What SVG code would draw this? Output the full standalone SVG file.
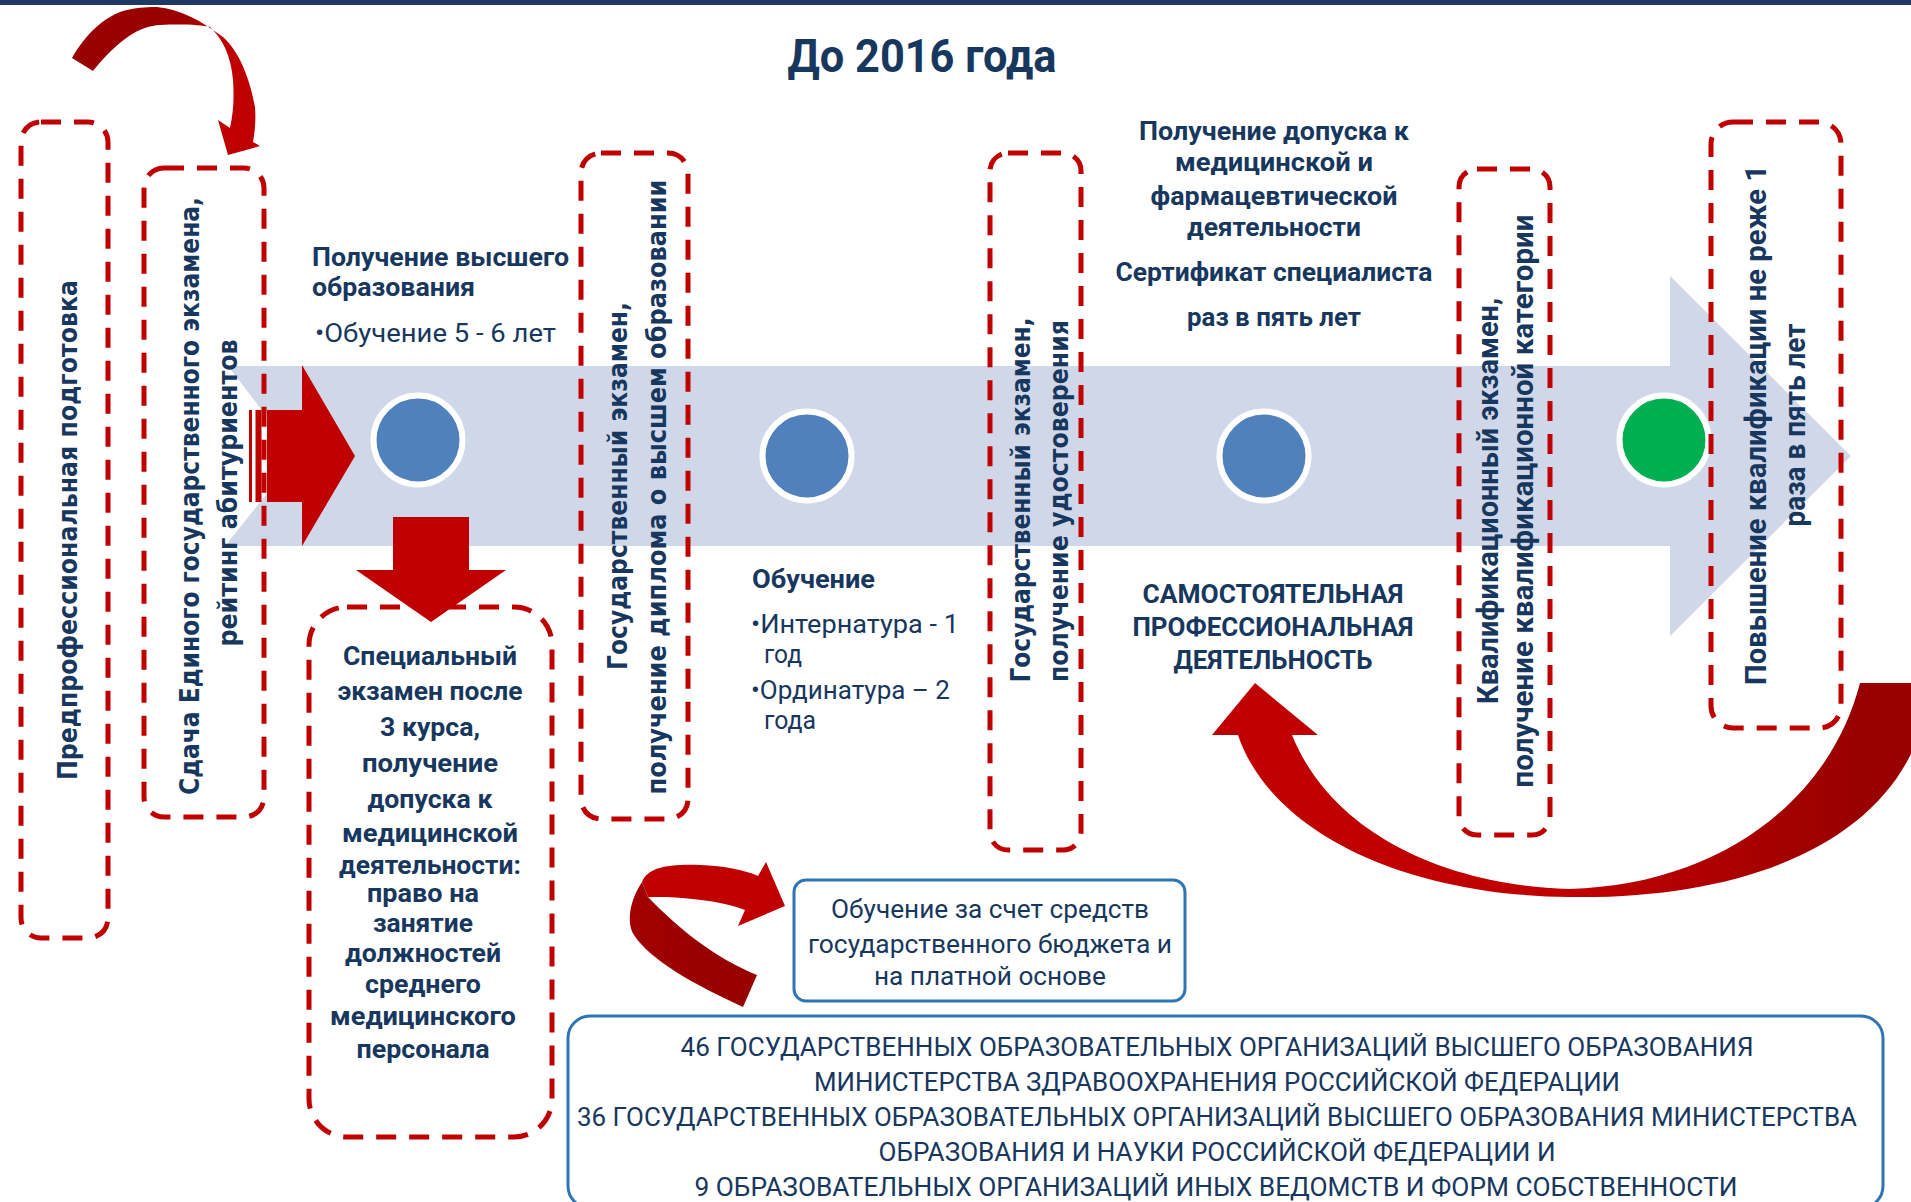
<svg xmlns="http://www.w3.org/2000/svg" width="1911" height="1202" viewBox="0 0 1911 1202">
<defs>
<style>
.box{fill:none;stroke:#c00000;stroke-width:5;stroke-dasharray:20 13}
.bbox{fill:#ffffff;stroke:#2e75b6;stroke-width:3}
.t{font-family:Roboto,'Liberation Sans',sans-serif;fill:#17375e;font-size:26px}
.b{font-weight:700}
.c{text-anchor:middle}
.title{font-size:46px}
.org{font-size:25px}
.v{font-family:'DejaVu Sans',Verdana,sans-serif;font-weight:700;font-size:27px;fill:#17375e;text-anchor:middle}
.vr{font-family:Roboto,'Liberation Sans',sans-serif;font-weight:700;font-size:29px;fill:#17375e;text-anchor:middle}
.dot{stroke:#ffffff;stroke-width:6}
</style>
<linearGradient id="gTop" x1="72" y1="0" x2="259" y2="0" gradientUnits="userSpaceOnUse"><stop offset="0" stop-color="#990000"/><stop offset="0.62" stop-color="#9c0000"/><stop offset="0.74" stop-color="#c00000"/><stop offset="1" stop-color="#c00000"/></linearGradient>
<linearGradient id="gBig" x1="1300" y1="0" x2="1860" y2="0" gradientUnits="userSpaceOnUse"><stop offset="0" stop-color="#c00000"/><stop offset="0.5" stop-color="#c00000"/><stop offset="1" stop-color="#990000"/></linearGradient>
<linearGradient id="gLow" x1="630" y1="0" x2="700" y2="0" gradientUnits="userSpaceOnUse"><stop offset="0" stop-color="#a30000"/><stop offset="1" stop-color="#990000"/></linearGradient>
</defs>
<rect x="0" y="0" width="1911" height="1202" fill="#ffffff"/>
<rect x="0" y="0" width="1911" height="5" fill="#1f3864"/>
<text class="t b c title" x="922" y="72" textLength="269" lengthAdjust="spacingAndGlyphs">До 2016 года</text>

<g id="band">
<polygon points="228,366 297,456 225,546 1670,546 1670,636 1851,456 1670,276 1670,366" fill="#cfd7e8"/>
</g>

<g id="connectors">
<g id="arrow-right" fill="#c00000">
<rect x="249" y="410" width="3" height="92"/>
<rect x="255.5" y="410" width="6" height="92"/>
<polygon points="267,410 302,410 302,365 355,456 302,546 302,502 267,502"/>
</g>
<polygon id="arrow-down" fill="#c00000" points="393,517 469,517 469,570 506,570 431,622 356,570 393,570"/>
<path id="arrow-top" fill="url(#gTop)" d="M72,58 C85,35 105,15 127,10 C140,7 150,7 157,7 C180,9 200,20 223,37 C240,52 250,80 255,107 C256,120 255,130 253,142 L260,146 L228,155 L218,120 L230,128 C234,110 234,95 233,80 C231,55 222,38 210,27 C200,25 185,24 160,25 C140,26 120,38 93,71 Z"/>
<g id="arrow-ribbon">
<path fill="url(#gLow)" d="M642,882 L648,897 C680,930 715,958 757,975 L743,1007 C695,985 650,960 634,935 C626,922 630,900 642,882 Z"/>
<path fill="#c00000" d="M642,882 C648,868 665,864 700,865 C725,866 745,870 758,876 L766,862 L785,906 L738,926 L745,910 C725,902 700,899 667,897 C660,897 652,897 648,897 Z"/>
</g>
<path id="arrow-return" fill="url(#gBig)" d="M1255,683 L1318,735 L1292,735 C1330,830 1440,885 1569,889 C1720,885 1830,800 1860,683 L1930,683 C1920,820 1780,900 1569,897 C1400,895 1270,830 1238,735 L1212,735 Z"/>
</g>

<g id="node-predprof">
<rect class="box" x="21" y="122" width="87" height="816" rx="20"/>
<text class="v" transform="translate(77,530) rotate(-90)" textLength="500" lengthAdjust="spacingAndGlyphs">Предпрофессиональная подготовка</text>
</g>

<g id="node-ege">
<rect class="box" x="144" y="168" width="120" height="649" rx="20"/>
<text class="v" transform="translate(199,496) rotate(-90)" textLength="598" lengthAdjust="spacingAndGlyphs">Сдача Единого государственного экзамена,</text>
<text class="v" transform="translate(237,493) rotate(-90)" textLength="307" lengthAdjust="spacingAndGlyphs">рейтинг абитуриентов</text>
</g>

<g id="node-higher">
<text class="t b" x="312" y="266" textLength="257" lengthAdjust="spacingAndGlyphs">Получение высшего</text>
<text class="t b" x="312" y="296" textLength="163" lengthAdjust="spacingAndGlyphs">образования</text>
<text class="t" x="315" y="342" textLength="241" lengthAdjust="spacingAndGlyphs">•Обучение 5 - 6 лет</text>
</g>

<g id="node-dot1"><circle class="dot" cx="418" cy="440" r="44.5" fill="#4f81bd"/></g>
<g id="node-dot2"><circle class="dot" cx="807" cy="456" r="44.5" fill="#4f81bd"/></g>
<g id="node-dot3"><circle class="dot" cx="1264" cy="456" r="44.5" fill="#4f81bd"/></g>
<g id="node-dot4"><circle class="dot" cx="1664" cy="440" r="44.5" fill="#00b050"/></g>

<g id="node-special">
<rect class="box" x="309" y="607" width="243" height="530" rx="38"/>
<g class="t b c">
<text x="430" y="665" textLength="174" lengthAdjust="spacingAndGlyphs">Специальный</text>
<text x="430" y="700" textLength="185" lengthAdjust="spacingAndGlyphs">экзамен после</text>
<text x="430" y="736" textLength="100" lengthAdjust="spacingAndGlyphs">3 курса,</text>
<text x="430" y="772" textLength="136" lengthAdjust="spacingAndGlyphs">получение</text>
<text x="430" y="808" textLength="125" lengthAdjust="spacingAndGlyphs">допуска к</text>
<text x="430" y="842" textLength="176" lengthAdjust="spacingAndGlyphs">медицинской</text>
<text x="430" y="874" textLength="182" lengthAdjust="spacingAndGlyphs">деятельности:</text>
<text x="423" y="902" textLength="112" lengthAdjust="spacingAndGlyphs">право на</text>
<text x="423" y="932" textLength="100" lengthAdjust="spacingAndGlyphs">занятие</text>
<text x="423" y="962" textLength="156" lengthAdjust="spacingAndGlyphs">должностей</text>
<text x="423" y="993" textLength="116" lengthAdjust="spacingAndGlyphs">среднего</text>
<text x="423" y="1025" textLength="186" lengthAdjust="spacingAndGlyphs">медицинского</text>
<text x="423" y="1058" textLength="133" lengthAdjust="spacingAndGlyphs">персонала</text>
</g>
</g>

<g id="node-diploma">
<rect class="box" x="581" y="153" width="107" height="666" rx="20"/>
<text class="v" transform="translate(627,486) rotate(-90)" textLength="368" lengthAdjust="spacingAndGlyphs">Государственный экзамен,</text>
<text class="v" transform="translate(666,487) rotate(-90)" textLength="615" lengthAdjust="spacingAndGlyphs">получение диплома о высшем образовании</text>
</g>

<g id="node-training">
<text class="t b" x="752" y="588" textLength="123" lengthAdjust="spacingAndGlyphs">Обучение</text>
<text class="t" x="751" y="633" textLength="208" lengthAdjust="spacingAndGlyphs">•Интернатура - 1</text>
<text class="t" x="764" y="663" textLength="38" lengthAdjust="spacingAndGlyphs">год</text>
<text class="t" x="751" y="699" textLength="199" lengthAdjust="spacingAndGlyphs">•Ординатура – 2</text>
<text class="t" x="764" y="729" textLength="52" lengthAdjust="spacingAndGlyphs">года</text>
</g>

<g id="node-certificate-exam">
<rect class="box" x="990" y="153" width="91" height="697" rx="18"/>
<text class="v" transform="translate(1030,500) rotate(-90)" textLength="365" lengthAdjust="spacingAndGlyphs">Государственный экзамен,</text>
<text class="v" transform="translate(1068,501) rotate(-90)" textLength="362" lengthAdjust="spacingAndGlyphs">получение удостоверения</text>
</g>

<g id="node-access" class="t b c">
<text x="1274" y="140" textLength="270" lengthAdjust="spacingAndGlyphs">Получение допуска к</text>
<text x="1274" y="171" textLength="198" lengthAdjust="spacingAndGlyphs">медицинской и</text>
<text x="1274" y="205" textLength="247" lengthAdjust="spacingAndGlyphs">фармацевтической</text>
<text x="1274" y="236" textLength="174" lengthAdjust="spacingAndGlyphs">деятельности</text>
<text x="1274" y="281" textLength="317" lengthAdjust="spacingAndGlyphs">Сертификат специалиста</text>
<text x="1274" y="326" textLength="174" lengthAdjust="spacingAndGlyphs">раз в пять лет</text>
</g>

<g id="node-independent" class="t b c">
<text x="1273" y="603" textLength="261" lengthAdjust="spacingAndGlyphs">САМОСТОЯТЕЛЬНАЯ</text>
<text x="1273" y="636" textLength="281" lengthAdjust="spacingAndGlyphs">ПРОФЕССИОНАЛЬНАЯ</text>
<text x="1273" y="669" textLength="199" lengthAdjust="spacingAndGlyphs">ДЕЯТЕЛЬНОСТЬ</text>
</g>

<g id="node-qualification">
<rect class="box" x="1459" y="169" width="91" height="666" rx="18"/>
<text class="vr" transform="translate(1498,501) rotate(-90)" textLength="406" lengthAdjust="spacingAndGlyphs">Квалификационный экзамен,</text>
<text class="vr" transform="translate(1533,501) rotate(-90)" textLength="573" lengthAdjust="spacingAndGlyphs">получение квалификационной категории</text>
</g>

<g id="node-advanced">
<rect class="box" x="1711" y="122" width="130" height="606" rx="22"/>
<text class="vr" transform="translate(1766,425) rotate(-90)" textLength="520" lengthAdjust="spacingAndGlyphs">Повышение квалификации не реже 1</text>
<text class="vr" transform="translate(1805,425) rotate(-90)" textLength="203" lengthAdjust="spacingAndGlyphs">раза в пять лет</text>
</g>

<g id="node-funding">
<rect class="bbox" x="794" y="880" width="391" height="121" rx="12"/>
<g class="t c">
<text x="990" y="918" textLength="318" lengthAdjust="spacingAndGlyphs">Обучение за счет средств</text>
<text x="990" y="953" textLength="364" lengthAdjust="spacingAndGlyphs">государственного бюджета и</text>
<text x="990" y="985" textLength="232" lengthAdjust="spacingAndGlyphs">на платной основе</text>
</g>
</g>

<g id="node-organizations">
<rect class="bbox" x="568" y="1016" width="1315" height="192" rx="22"/>
<g class="t c org">
<text x="1217" y="1056" textLength="1073" lengthAdjust="spacingAndGlyphs">46 ГОСУДАРСТВЕННЫХ ОБРАЗОВАТЕЛЬНЫХ ОРГАНИЗАЦИЙ  ВЫСШЕГО ОБРАЗОВАНИЯ</text>
<text x="1217" y="1091" textLength="806" lengthAdjust="spacingAndGlyphs">МИНИСТЕРСТВА ЗДРАВООХРАНЕНИЯ РОССИЙСКОЙ ФЕДЕРАЦИИ</text>
<text x="1217" y="1126" textLength="1280" lengthAdjust="spacingAndGlyphs">36 ГОСУДАРСТВЕННЫХ ОБРАЗОВАТЕЛЬНЫХ ОРГАНИЗАЦИЙ  ВЫСШЕГО ОБРАЗОВАНИЯ МИНИСТЕРСТВА</text>
<text x="1217" y="1161" textLength="677" lengthAdjust="spacingAndGlyphs">ОБРАЗОВАНИЯ И НАУКИ  РОССИЙСКОЙ ФЕДЕРАЦИИ И</text>
<text x="1216" y="1196" textLength="1043" lengthAdjust="spacingAndGlyphs">9 ОБРАЗОВАТЕЛЬНЫХ ОРГАНИЗАЦИЙ  ИНЫХ ВЕДОМСТВ  И ФОРМ СОБСТВЕННОСТИ</text>
</g>
</g>
</svg>
